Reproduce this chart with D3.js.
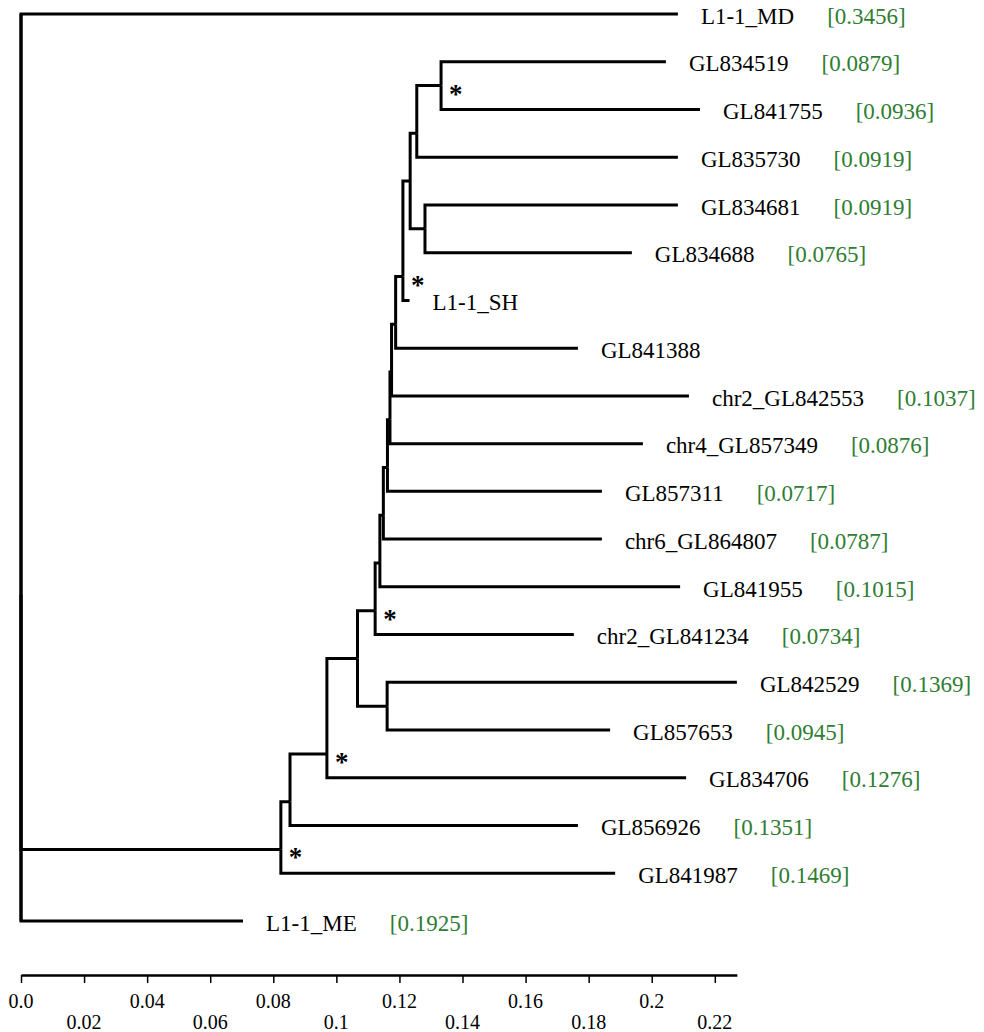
<!DOCTYPE html>
<html>
<head>
<meta charset="utf-8">
<script src="https://cdn.jsdelivr.net/npm/d3@7/dist/d3.min.js"></script>
<style>
  body { margin: 0; background: #fff; }
  svg text { font-family: "Liberation Serif", "Times New Roman", serif; }
</style>
</head>
<body>
<div id="tree"></div>
<script>
// leaves top to bottom, with the bracketed value shown after each name
var leaves = ["L1-1_MD", "GL834519", "GL841755", "GL835730", "GL834681", "GL834688",
  "L1-1_SH", "GL841388", "chr2_GL842553", "chr4_GL857349", "GL857311", "chr6_GL864807",
  "GL841955", "chr2_GL841234", "GL842529", "GL857653", "GL834706", "GL856926",
  "GL841987", "L1-1_ME"];
var leafValues = ["0.3456", "0.0879", "0.0936", "0.0919", "0.0919", "0.0765",
  null, null, "0.1037", "0.0876", "0.0717", "0.0787",
  "0.1015", "0.0734", "0.1369", "0.0945", "0.1276", "0.1351",
  "0.1469", "0.1925"];

// [node, parent, branch length], children listed in drawing order
var branches = [
  ["root", "", 0],
  ["L1-1_MD", "root", 0.2083],
  ["Y", "root", 0.0824],
  ["X", "Y", 0.0029],
  ["W", "X", 0.0117],
  ["A", "W", 0.0097],
  ["V", "A", 0.0056],
  ["U", "V", 0.0015],
  ["T", "U", 0.0011],
  ["S", "T", 0.0013],
  ["R", "S", 0.0008],
  ["Q", "R", 0.0005],
  ["P", "Q", 0.0013],
  ["O", "P", 0.0023],
  ["M", "O", 0.0023],
  ["L", "M", 0.0021],
  ["K", "L", 0.0077],
  ["GL834519", "K", 0.0713],
  ["GL841755", "K", 0.0821],
  ["GL835730", "L", 0.0828],
  ["N", "M", 0.0047],
  ["GL834681", "N", 0.0802],
  ["GL834688", "N", 0.0656],
  ["L1-1_SH", "O", 0.0021],
  ["GL841388", "P", 0.0578],
  ["chr2_GL842553", "Q", 0.0943],
  ["chr4_GL857349", "R", 0.0802],
  ["GL857311", "S", 0.0680],
  ["chr6_GL864807", "T", 0.0693],
  ["GL841955", "U", 0.0952],
  ["chr2_GL841234", "V", 0.0630],
  ["C", "A", 0.0094],
  ["GL842529", "C", 0.1109],
  ["GL857653", "C", 0.0707],
  ["GL834706", "W", 0.1139],
  ["GL856926", "X", 0.0913],
  ["GL841987", "Y", 0.1060],
  ["L1-1_ME", "root", 0.0704]
];

// nodes marked with a support star
var supported = ["K", "O", "V", "W", "Y"];

var tickValues = [0, 0.02, 0.04, 0.06, 0.08, 0.1, 0.12, 0.14, 0.16, 0.18, 0.2, 0.22];
var tickLabels = ["0.0", "0.02", "0.04", "0.06", "0.08", "0.1", "0.12", "0.14", "0.16", "0.18", "0.2", "0.22"];

var width = 984, height = 1032;

var svg = d3.select("#tree")
    .append("svg")
    .attr("width", width)
    .attr("height", height);

var root = d3.stratify()
    .id(d => d[0])
    .parentId(d => d[1])(branches);

root.eachBefore(n => { n.dist = n.parent ? n.parent.dist + n.data[2] : 0; });
var maxDist = d3.max(root.leaves(), n => n.dist);

var x = d3.scaleLinear().domain([0, 0.22]).range([21, 714.8]);
var y = d3.scalePoint().domain(leaves).range([14, 921]);

function firstLeaf(n) { while (n.children) n = n.children[0]; return n; }
function lastLeaf(n) { while (n.children) n = n.children[n.children.length - 1]; return n; }

root.eachAfter(n => {
  if (!n.children) n.py = y(n.id);
  else if (n.children.length === 2) n.py = (lastLeaf(n.children[0]).py + firstLeaf(n.children[1]).py) / 2;
  else n.py = d3.mean(n.children, c => c.py);
});

// branches: from parent's vertical to the node
svg.append("g")
    .selectAll("path")
    .data(root.descendants().filter(n => n.parent))
    .enter().append("path")
    .attr("d", n => "M" + x(n.parent.dist) + "," + n.parent.py + "V" + n.py + "H" + x(n.dist))
    .attr("fill", "none")
    .attr("stroke", "#000")
    .attr("stroke-width", 3);

// root vertical spans all its children
svg.append("path")
    .attr("d", "M" + x(0) + "," + root.children[0].py + "V" + root.children[root.children.length - 1].py)
    .attr("stroke", "#000")
    .attr("stroke-width", 3);

// leaf labels
var labels = svg.append("g")
    .selectAll("text")
    .data(root.leaves())
    .enter().append("text")
    .attr("x", n => x(n.dist) + 23)
    .attr("y", n => n.py)
    .attr("dy", "0.42em")
    .style("font-size", "23px")
    .attr("fill", "#000")
    .text(n => n.id);

labels.append("tspan")
    .attr("dx", 33)
    .attr("fill", "#2e7d32")
    .text(n => {
      var v = leafValues[leaves.indexOf(n.id)];
      return v ? "[" + v + "]" : "";
    });

// support stars
svg.append("g")
    .selectAll("text")
    .data(root.descendants().filter(n => supported.indexOf(n.id) >= 0))
    .enter().append("text")
    .attr("x", n => x(n.dist) + 8)
    .attr("y", n => n.py + 17)
    .style("font-size", "27px")
    .style("font-weight", "bold")
    .text("*");

// scale axis
var ax = d3.scaleLinear().domain([0, maxDist]).range([x(0), x(maxDist)]);
var axis = svg.append("g")
    .attr("transform", "translate(0,975)")
    .call(d3.axisBottom(ax).tickValues(tickValues).tickSize(8).tickSizeOuter(0).tickFormat(""));
axis.select(".domain").attr("stroke-width", 2.5);
axis.selectAll(".tick line").attr("stroke-width", 1.5);

svg.append("g")
    .selectAll("text")
    .data(tickValues)
    .enter().append("text")
    .attr("x", d => x(d))
    .attr("y", (d, i) => i % 2 === 0 ? 1008 : 1029)
    .attr("text-anchor", "middle")
    .style("font-size", "20px")
    .text((d, i) => tickLabels[i]);
</script>
</body>
</html>
